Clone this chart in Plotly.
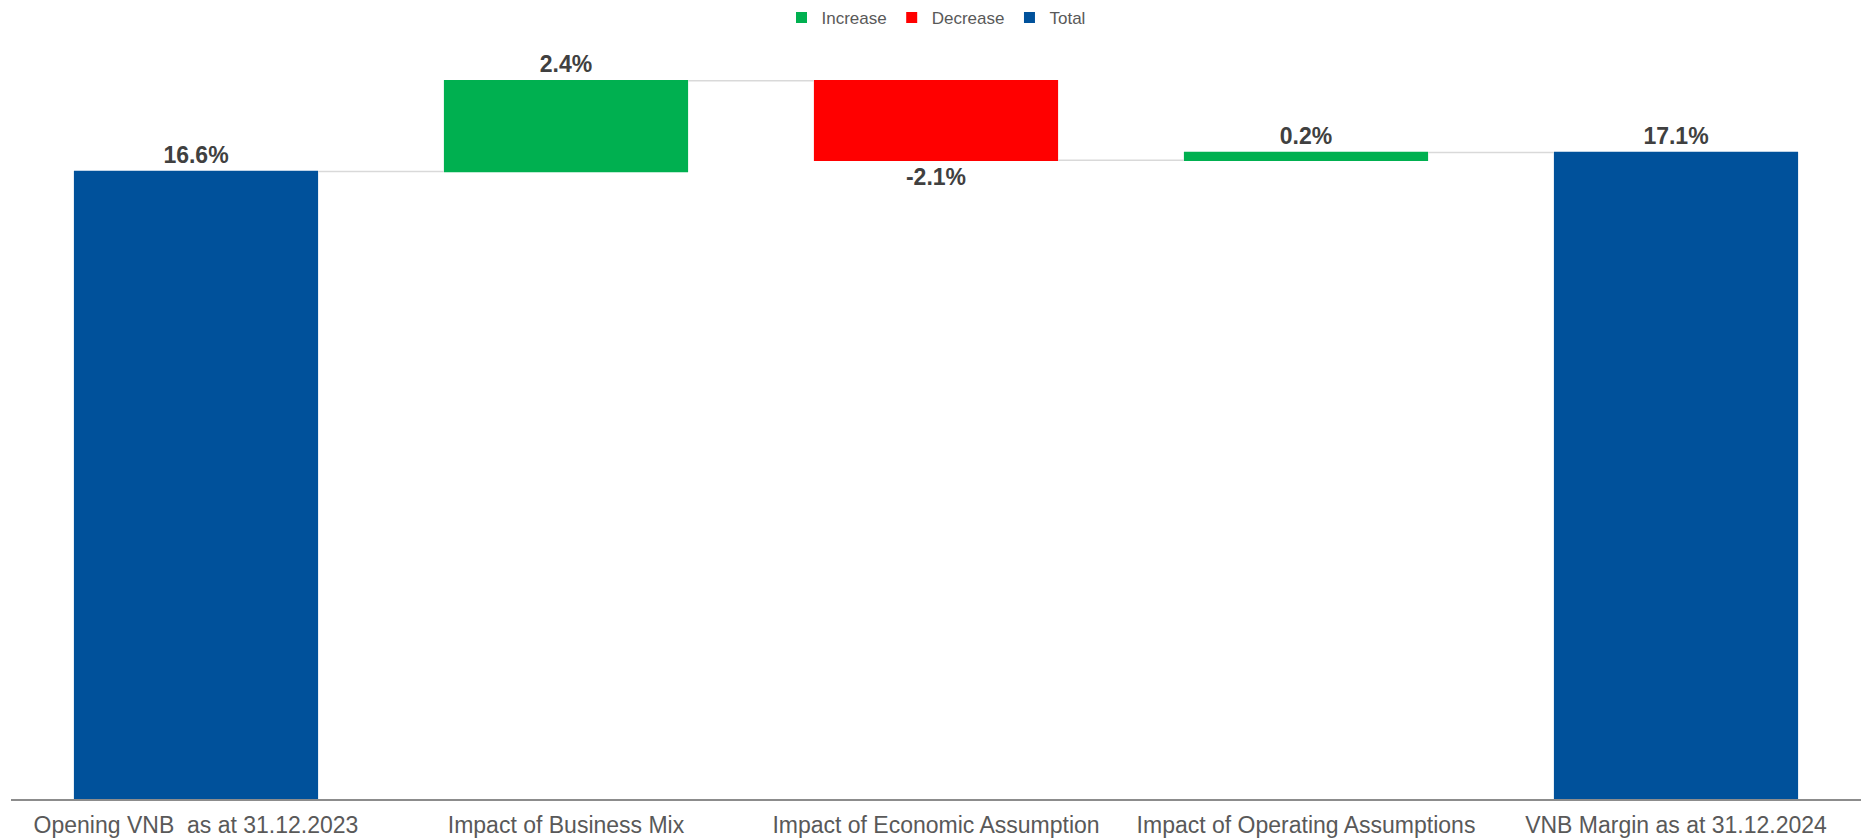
import plotly.graph_objects as go

# VNB margin bridge, 31.12.2023 -> 31.12.2024 (in %)
categories = [
    "Opening VNB  as at 31.12.2023",
    "Impact of Business Mix",
    "Impact of Economic Assumption",
    "Impact of Operating Assumptions",
    "VNB Margin as at 31.12.2024",
]
opening_value = 16.6
step_changes = [2.4, -2.1, 0.2]
measures = ["absolute", "relative", "relative", "relative", "total"]

closing_value = round(opening_value + sum(step_changes), 1)
values = [opening_value] + step_changes + [0]
labels = [f"{v:.1f}%" for v in [opening_value] + step_changes + [closing_value]]

GREEN = "#00b050"
RED = "#ff0000"
BLUE = "#00519b"
FONT = "Liberation Sans, Arial, sans-serif"

fig = go.Figure()

fig.add_trace(go.Waterfall(
    x=categories,
    y=values,
    measure=measures,
    text=labels,
    textposition="outside",
    textfont=dict(family=FONT, size=23, color="#404040", weight="bold"),
    increasing=dict(marker=dict(color=GREEN)),
    decreasing=dict(marker=dict(color=RED)),
    totals=dict(marker=dict(color=BLUE)),
    connector=dict(mode="between", line=dict(color="#d9d9d9", width=1.5)),
    cliponaxis=False,
    showlegend=False,
    hoverinfo="x+text",
))

# legend entries for the three bar types
for name, color in [("Increase", GREEN), ("Decrease", RED), ("Total", BLUE)]:
    fig.add_trace(go.Scatter(
        x=[None], y=[None], mode="markers", name=name,
        marker=dict(symbol="square", size=11, color=color),
    ))

fig.update_layout(
    width=1864,
    height=840,
    margin=dict(l=11, r=3, t=43, b=41),
    paper_bgcolor="white",
    plot_bgcolor="white",
    waterfallgap=0.34,
    font=dict(family=FONT, color="#595959"),
    legend=dict(
        orientation="h",
        x=0.5, xanchor="center",
        y=1.0, yanchor="top", yref="container",
        font=dict(size=17, color="#595959"),
        itemwidth=30,
        traceorder="normal",
        bgcolor="rgba(0,0,0,0)",
    ),
    xaxis=dict(
        showline=True, linecolor="#8c8c8c", linewidth=2,
        showgrid=False, zeroline=False, ticks="",
        tickfont=dict(size=23, color="#595959"),
        ticklabelstandoff=4,
        automargin=False,
    ),
    yaxis=dict(
        range=[0, 20], visible=False, showgrid=False, zeroline=False,
        automargin=False,
    ),
)

fig.write_html("out.html")
